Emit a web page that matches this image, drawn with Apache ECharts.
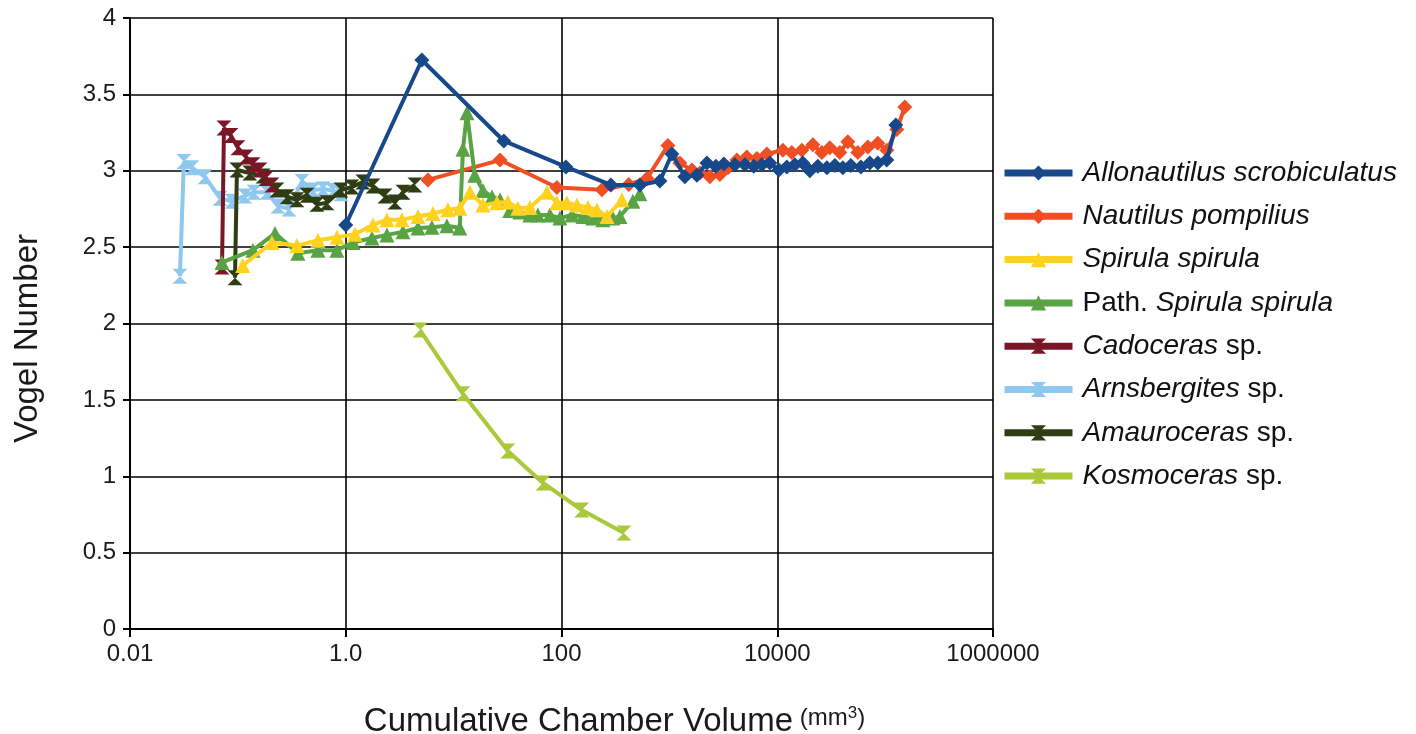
<!DOCTYPE html>
<html><head><meta charset="utf-8">
<script src="https://cdn.jsdelivr.net/npm/echarts@6/dist/echarts.min.js"></script>
<style>html,body{margin:0;padding:0;background:#fff}#c{width:1416px;height:734px}</style>
</head><body><div id="c"></div>
<script>
// ---- data (x = cumulative chamber volume mm3, y = Vogel number) ----
const seriesNames = ['Allonautilus scrobiculatus','Nautilus pompilius','Spirula spirula','Path. Spirula spirula','Cadoceras sp.','Arnsbergites sp.','Amauroceras sp.','Kosmoceras sp.'];
const legendLabels = ['{i|Allonautilus scrobiculatus}','{i|Nautilus pompilius}','{i|Spirula spirula}','{n|Path.} {i|Spirula spirula}','{i|Cadoceras} {n|sp.}','{i|Arnsbergites} {n|sp.}','{i|Amauroceras} {n|sp.}','{i|Kosmoceras} {n|sp.}'];
const seriesColors = ['#17488a','#f04e23','#ffd21f','#5aa345','#7b1626','#8ec8ee','#2f3d14','#a9c83a'];
const xTickLabels = ['0.01','1.0','100','10000','1000000'];
const yTickLabels = ['0','0.5','1','1.5','2','2.5','3','3.5','4'];

const allonautilus = [[1.0,2.645],[5.08,3.725],[29.2,3.195],[110,3.025],[287,2.907],[533,2.907],[817,2.933],[1055,3.11],[1393,2.96],[1799,2.97],[2228,3.05],[2698,3.03],[3201,3.045],[4046,3.04],[5012,3.04],[6067,3.03],[7197,3.04],[8536,3.05],[10350,3.005],[12270,3.025],[14550,3.04],[17260,3.05],[20050,3.0],[23780,3.03],[28840,3.02],[34200,3.035],[40550,3.02],[48100,3.035],[59570,3.025],[72140,3.05],[85510,3.05],[103700,3.07],[125700,3.3]];
const nautilus = [[5.78,2.94],[26.9,3.07],[90.6,2.89],[237,2.875],[420,2.91],[620,2.95],[969,3.165],[1251,3.05],[1617,3.005],[1918,2.985],[2373,2.96],[2938,2.975],[3484,3.02],[4225,3.07],[5225,3.09],[6470,3.08],[8010,3.11],[11270,3.135],[13650,3.12],[16900,3.135],[21380,3.17],[25880,3.12],[30700,3.15],[38020,3.12],[45080,3.19],[55850,3.12],[69180,3.155],[85510,3.18],[103700,3.135],[128300,3.27],[152300,3.417]];
const spirula = [[0.111,2.38],[0.207,2.53],[0.353,2.51],[0.552,2.545],[0.828,2.565],[1.216,2.585],[1.786,2.645],[2.41,2.68],[3.32,2.68],[4.67,2.70],[6.43,2.72],[8.85,2.745],[11.43,2.755],[14.16,2.86],[18.7,2.775],[25.2,2.79],[31.8,2.795],[39.4,2.755],[50.9,2.76],[73.2,2.86],[90.6,2.79],[112,2.79],[139,2.775],[176,2.76],[213,2.745],[264,2.70],[363,2.81]];
const pathSpirula = [[0.0713,2.40],[0.138,2.48],[0.221,2.59],[0.36,2.46],[0.552,2.48],[0.828,2.48],[1.17,2.53],[1.75,2.56],[2.41,2.58],[3.39,2.60],[4.67,2.625],[6.29,2.63],[8.67,2.64],[11.4,2.625],[12.2,3.14],[13.3,3.38],[15.7,2.97],[18.7,2.87],[22.7,2.83],[26.9,2.81],[33.2,2.74],[41.1,2.73],[50.9,2.71],[60.4,2.71],[78,2.71],[96.6,2.69],[125,2.71],[158,2.70],[195,2.69],[242,2.68],[299,2.69],[348,2.70],[459,2.80],[533,2.85]];
const cadoceras = [[0.0713,2.37],[0.0743,3.28],[0.0863,3.23],[0.1,3.15],[0.119,3.09],[0.138,3.04],[0.160,3.005],[0.182,2.95],[0.207,2.907]];
const arnsbergites = [[0.029,2.31],[0.0316,3.06],[0.0375,3.02],[0.0496,2.96],[0.0683,2.82],[0.088,2.80],[0.116,2.835],[0.141,2.86],[0.186,2.86],[0.235,2.77],[0.298,2.75],[0.393,2.93],[0.497,2.874],[0.615,2.88],[0.761,2.87],[0.903,2.85]];
const amauroceras = [[0.094,2.30],[0.098,3.005],[0.129,2.985],[0.171,2.966],[0.23,2.874],[0.285,2.83],[0.353,2.81],[0.437,2.84],[0.541,2.78],[0.669,2.79],[0.903,2.874],[1.14,2.894],[1.44,2.926],[1.79,2.90],[2.31,2.835],[2.86,2.795],[3.39,2.86],[4.38,2.907]];
const kosmoceras = [[4.88,1.957],[12.2,1.54],[31.8,1.165],[67.3,0.956],[154,0.779],[379,0.628]];

const seriesData = [allonautilus,nautilus,spirula,pathSpirula,cadoceras,arnsbergites,amauroceras,kosmoceras];
const hourglass = 'path://M0,0 L10,0 L5,5 L10,10 L0,10 L5,5 Z';
const seriesSymbols = ['diamond','diamond','triangle','triangle',hourglass,hourglass,hourglass,hourglass];
const seriesZ = [9,3,6,5,4,2,3,2];

const FONT = '"Liberation Sans", Arial, sans-serif';
const chart = echarts.init(document.getElementById('c'), null, {renderer:'canvas'});
chart.setOption({
  backgroundColor:'#ffffff',
  animation:false,
  textStyle:{fontFamily:FONT},
  grid:{left:130,right:423,top:18,bottom:105,containLabel:false,outerBoundsMode:'none'},
  xAxis:{
    type:'log', logBase:10, min:0.01, max:1000000, interval:2,
    name:'{a|Cumulative Chamber Volume}  {b|(mm}{s|3}{b|)}',
    nameLocation:'middle', nameGap:76,
    nameTextStyle:{rich:{
      a:{fontSize:33,color:'#1a1a1a',fontFamily:FONT},
      b:{fontSize:24,color:'#1a1a1a',fontFamily:FONT,padding:[0,0,6,0]},
      s:{fontSize:17,color:'#1a1a1a',fontFamily:FONT,padding:[0,0,16,0]}},
      padding:[0,0,0,106]},
    axisLine:{show:true,lineStyle:{color:'#000',width:2}},
    axisTick:{show:true,length:8,lineStyle:{color:'#000',width:2}},
    axisLabel:{fontSize:24,color:'#1a1a1a',margin:13,fontFamily:FONT,
      formatter:function(v){const i=Math.round((Math.log10(v)+2)/2);return xTickLabels[i]||'';}},
    splitLine:{show:true,lineStyle:{color:'#000',width:1.6}},
    minorTick:{show:false},minorSplitLine:{show:false}
  },
  yAxis:{
    type:'value', min:0, max:4, interval:0.5,
    name:'Vogel Number', nameLocation:'middle', nameGap:86, nameRotate:90,
    nameTextStyle:{fontSize:33,color:'#1a1a1a',fontFamily:FONT,padding:[0,30,0,0]},
    axisLine:{show:true,lineStyle:{color:'#000',width:2}},
    axisTick:{show:true,length:7,lineStyle:{color:'#000',width:2}},
    axisLabel:{fontSize:24,color:'#1a1a1a',margin:14,fontFamily:FONT,
      formatter:function(v){return yTickLabels[Math.round(v*2)];}},
    splitLine:{show:true,lineStyle:{color:'#000',width:1.6}}
  },
  legend:{
    orient:'vertical', left:1001, top:159, padding:0, itemGap:15.3, itemWidth:68, itemHeight:19,
    lineStyle:{width:7},
    data:seriesNames,
    formatter:function(n){return legendLabels[seriesNames.indexOf(n)];},
    textStyle:{fontSize:28,color:'#111',fontFamily:FONT,padding:[0,0,0,5],
      rich:{i:{fontSize:28,fontStyle:'italic',color:'#111',fontFamily:FONT},n:{fontSize:28,fontStyle:'normal',color:'#111',fontFamily:FONT}}}
  },
  series:seriesNames.map(function(name,k){return {
    name:name, type:'line', data:seriesData[k], z:seriesZ[k],
    symbol:seriesSymbols[k], symbolSize:15, showAllSymbol:true,
    itemStyle:{color:seriesColors[k]},
    lineStyle:{color:seriesColors[k],width:4},
    emphasis:{disabled:true}
  };})
});
</script></body></html>
